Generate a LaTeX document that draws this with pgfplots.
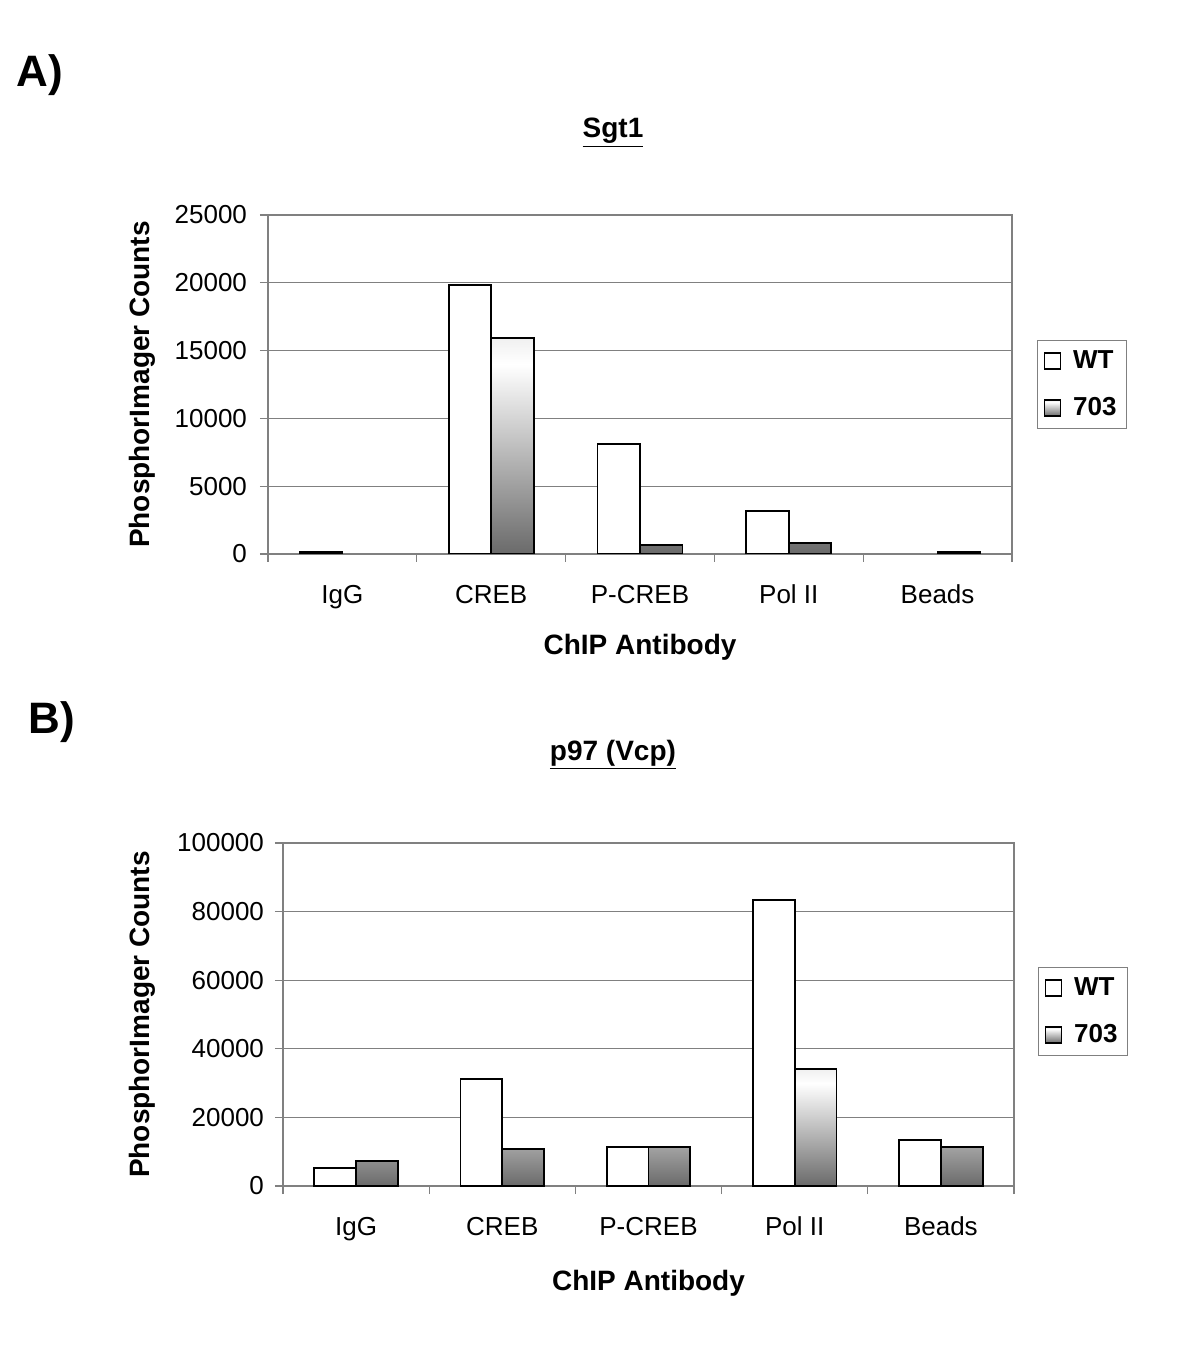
\documentclass[border=0pt]{standalone}
\usepackage{fontspec}
\setmainfont{Liberation Sans}
\usepackage{pgfplots}
\pgfplotsset{compat=1.18}
\definecolor{dk}{RGB}{106,106,106}
\definecolor{gr}{RGB}{128,128,128}
\definecolor{lt}{RGB}{240,240,240}
\pgfdeclareverticalshading{barshade}{100bp}{color(0bp)=(dk); color(25bp)=(dk); color(69bp)=(white); color(75bp)=(lt); color(100bp)=(lt)}
\pgfplotsset{
  myleg/.style={legend image code/.code={\draw[##1,draw=black,line width=0.7pt] (0pt,-4pt) rectangle (8pt,4pt); \path (12pt,0pt);}},
  chipstyle/.style={
    scale only axis, anchor=south west,
    xmin=-0.5, xmax=4.5, ymin=0,
    ybar, bar width=0.286,
    axis line style={gr, line width=0.6pt},
    ymajorgrids, grid style={gr, line width=0.6pt},
    tick align=outside, tick style={gr, line width=0.6pt}, major tick length=4pt,
    tick pos=left,
    xtick={-0.5,0.5,1.5,2.5,3.5,4.5}, xticklabels={{},{},{},{},{},{}},
    extra x ticks={0,1,2,3,4},
    extra x tick labels={IgG,CREB,P-CREB,Pol II,Beads},
    extra x tick style={major tick length=0pt, grid=none},
    xticklabel style={yshift=-12pt},
    tick label style={font=\fontsize{13}{15}\selectfont},
    /pgf/number format/assume math mode=true,
    /pgf/number format/fixed, /pgf/number format/1000 sep={},
    scaled y ticks=false,
    legend style={draw=gr, line width=0.6pt, font=\bfseries\fontsize{13}{15}\selectfont,
      anchor=north west, row sep=9pt, inner xsep=3pt, inner ysep=3pt,
      cells={anchor=west}},
  }
}
\begin{document}
\begin{tikzpicture}
\useasboundingbox (0,0) rectangle (600pt,672.5pt);
\node[font=\bfseries\fontsize{22}{26}\selectfont] at (20pt,635pt) {A)};
\node[font=\bfseries\fontsize{22}{26}\selectfont] at (26pt,311.5pt) {B)};
\node[font=\bfseries\fontsize{14}{16}\selectfont] at (306.5pt,606pt) {\underline{Sgt1}};
\node[font=\bfseries\fontsize{14}{16}\selectfont] at (306.5pt,295pt) {\underline{p97 (Vcp)}};

\begin{axis}[chipstyle,
  at={(134pt,395.5pt)}, width=372pt, height=169.5pt,
  ymax=25000, ytick={0,5000,10000,15000,20000,25000},
  yticklabel style={xshift=-3pt},
  xlabel={ChIP Antibody}, ylabel={PhosphorImager Counts},
  every axis x label/.style={at={(axis description cs:0.5,-0.2745)}, anchor=center, font=\bfseries\fontsize{14}{16}\selectfont},
  every axis y label/.style={at={(axis description cs:-0.169,0.5)}, rotate=90, anchor=center, font=\bfseries\fontsize{14}{16}\selectfont},
  legend style={at={(1.0336,0.631)}},
]
\addplot[bar shift=-0.143, fill=white, draw=black, line width=0.9pt, myleg]
  coordinates {(0,150) (1,19850) (2,8100) (3,3150)};
\addplot[bar shift=0.143, draw=black, shade, shading=barshade, line width=0.9pt, myleg]
  coordinates {(1,15900) (2,640) (3,790) (4,150)};
\legend{WT,703}
\end{axis}

\begin{axis}[chipstyle,
  at={(141.5pt,79.5pt)}, width=365.5pt, height=171.5pt,
  ymax=100000, ytick={0,20000,40000,60000,80000,100000},
  yticklabel style={xshift=-2pt},
  xlabel={ChIP Antibody}, ylabel={PhosphorImager Counts},
  every axis x label/.style={at={(axis description cs:0.5,-0.283)}, anchor=center, font=\bfseries\fontsize{14}{16}\selectfont},
  every axis y label/.style={at={(axis description cs:-0.1926,0.5)}, rotate=90, anchor=center, font=\bfseries\fontsize{14}{16}\selectfont},
  legend style={at={(1.0328,0.6385)}},
]
\addplot[bar shift=-0.143, fill=white, draw=black, line width=0.9pt, myleg]
  coordinates {(0,5300) (1,31300) (2,11400) (3,83400) (4,13300)};
\addplot[bar shift=0.143, draw=black, shade, shading=barshade, line width=0.9pt, myleg]
  coordinates {(0,7300) (1,10700) (2,11400) (3,34000) (4,11400)};
\legend{WT,703}
\end{axis}
\end{tikzpicture}
\end{document}
